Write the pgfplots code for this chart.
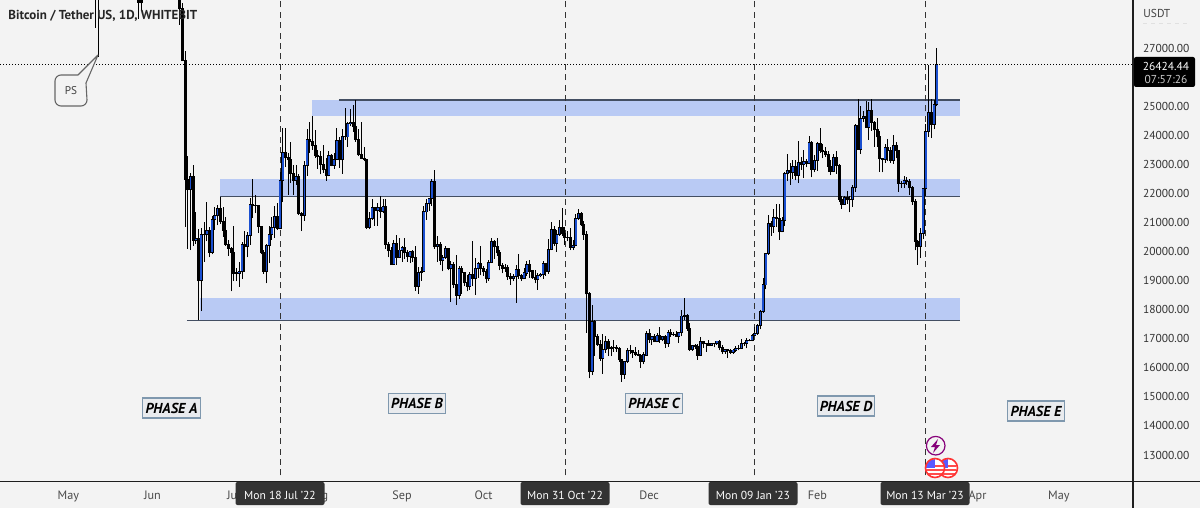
\documentclass[border=0pt]{standalone}
\usepackage{fontspec}
\setmainfont{PT Sans}
\usepackage{pgfplots}
\usepackage{pgfplotstable}
\pgfplotsset{compat=1.18}
\definecolor{bgc}{HTML}{F3F3F3}
\definecolor{zonec}{HTML}{B9CAF4}
\definecolor{linec}{HTML}{434E62}
\definecolor{bullc}{HTML}{1A4FD0}
\definecolor{axc}{HTML}{1E1E1E}
\definecolor{tickc}{HTML}{4A4A4A}
\definecolor{boxc}{HTML}{333333}
\definecolor{phb}{HTML}{7F98AE}
\definecolor{phf}{HTML}{E9EBEE}
\pgfplotstableread{
d o h l c
-68 31000 32000 27700 29100
-67 29050 30200 26700 28950
-52 28800 29300 28000 28580
-51 28650 29000 28300 28550
-38 30100 30300 28900 29080
-37 29080 29440 27800 28350
-36 28350 28550 26550 26570
-35 26570 26900 20850 22480
-34 22480 23300 20100 22130
-33 22130 22700 20050 22570
-32 22570 22980 20200 20380
-31 20380 21350 20250 20450
-30 20450 20780 17640 19000
-29 19000 20800 17950 20580
-28 20580 21000 19650 20570
-27 20570 21700 20350 20720
-26 20720 20860 19800 19960
-25 19960 21230 19900 21100
-24 21100 21530 20750 21230
-23 21230 21600 20900 21490
-22 21490 21870 20950 21040
-21 21040 21520 20500 20730
-20 20730 21180 20200 20250
-19 20250 20400 19850 20100
-18 20100 20150 18630 19980
-17 19980 20870 18980 19260
-16 19260 19430 18980 19240
-15 19240 19640 18780 19300
-14 19300 20340 19050 20230
-13 20230 20700 19300 20180
-12 20180 20680 19800 20550
-11 20550 21840 20240 21620
-10 21620 22500 21150 21580
-9 21580 21950 21320 21590
-8 21590 21600 20650 20860
-7 20860 20870 19900 19970
-6 19970 20050 19240 19330
-5 19330 20260 18900 20210
-4 20210 20880 19600 20580
-3 20580 21190 20400 20830
-2 20830 21560 20480 21190
-1 21190 21680 20750 20780
0 20780 22730 20770 22430
1 22430 24250 21700 23400
2 23400 24260 22900 23220
3 23220 23400 21950 23160
4 23160 23750 22350 22680
5 22680 22990 21950 22450
6 22450 22980 22300 22580
7 22580 22650 21250 21300
8 21300 21350 20700 21240
9 21240 23100 21050 22950
10 22950 24200 22600 23840
11 23840 24440 23400 23780
12 23780 24650 23500 23650
13 23650 24170 23230 23300
14 23300 23500 22850 23280
15 23280 23450 22650 22980
16 22980 23650 22700 22820
17 22820 23210 22430 22620
18 22620 23460 22580 23310
19 23310 23350 22930 22960
20 22960 23400 22850 23175
21 23175 24240 23150 23810
22 23810 23930 22880 23150
23 23150 24230 22670 23960
24 23960 24920 23850 23940
25 23940 24450 23600 24400
26 24400 24890 24300 24440
27 24440 25050 24120 24300
28 24300 25200 23780 23860
29 23860 24230 23280 23330
30 23330 24440 23180 23200
31 23200 23600 23100 23170
32 23170 23180 20770 20830
33 20830 21350 20760 21140
34 21140 21800 21100 21520
35 21520 21530 20890 21400
36 21400 21680 20880 21520
37 21520 21900 21150 21370
38 21370 21800 21310 21560
39 21560 21800 20100 20240
40 20240 20340 19800 20030
41 20030 20150 19550 19550
42 19550 20400 19540 20280
43 20280 20570 19540 19800
44 19800 20480 19780 20050
45 20050 20200 19650 20130
46 20130 20450 19750 19950
47 19950 20050 19650 19830
48 19830 20020 19600 20000
49 20000 20050 19650 19790
50 19790 20180 18650 18790
51 18790 19450 18540 19290
52 19290 19450 19000 19320
53 19320 21560 19300 21360
54 21360 21800 21100 21650
55 21650 21850 21400 21830
56 21830 22480 21560 22400
57 22400 22800 20100 20170
58 20170 20550 19650 20230
59 20230 20330 19550 19700
60 19700 19880 19320 19800
61 19800 20180 19750 20110
62 20110 20120 19350 19420
63 19420 19680 18270 19540
64 19540 19630 18750 18880
65 18880 19880 18160 18480
66 18480 19500 18360 19400
67 19400 19500 18540 19290
68 19290 19310 18820 18920
69 18920 19180 18630 18800
70 18800 19310 18680 19220
71 19220 20370 18800 19080
72 19080 19790 18500 19410
73 19410 19650 19100 19590
74 19590 20200 19180 19420
75 19420 19490 19160 19310
76 19310 19390 18920 19060
77 19060 19700 19000 19620
78 19620 20470 19600 20330
79 20330 20380 19750 20160
80 20160 20460 19850 19950
81 19950 20050 19350 19530
82 19530 19610 19250 19420
83 19420 19560 19310 19440
84 19440 19520 19020 19130
85 19130 19270 18860 19060
86 19060 19220 18980 19150
87 19150 19520 18230 19380
88 19380 19910 19070 19180
89 19180 19220 18980 19060
90 19060 19420 19050 19260
91 19260 19680 19150 19550
92 19550 19700 19100 19330
93 19330 19360 19050 19120
94 19120 19350 18900 19040
95 19040 19250 18680 19160
96 19160 19250 19110 19200
97 19200 19690 19070 19570
98 19570 19600 19160 19330
99 19330 20420 19240 20080
100 20080 21020 20050 20770
101 20770 20870 20200 20290
102 20290 20750 20000 20590
103 20590 21080 20540 20820
104 20820 21500 20530 20620
105 20620 20840 20240 20490
106 20490 20700 20350 20480
107 20480 20800 20050 20150
108 20150 20390 20050 20200
109 20200 21300 20180 21150
110 21150 21470 21080 21300
111 21300 21360 20880 20920
112 20920 21060 20400 20590
113 20590 20700 17200 18540
114 18540 18600 15640 15880
115 15880 18150 15750 17590
116 17590 17660 16400 17070
117 17070 17150 16750 16810
118 16810 16950 16250 16330
119 16330 17150 15800 16620
120 16620 17100 16520 16900
121 16900 17000 16400 16660
122 16660 16750 16400 16690
123 16690 16950 16550 16700
124 16700 16800 16550 16680
125 16680 16700 16200 16280
126 16280 16300 15520 15780
127 15780 16250 15620 16230
128 16230 16680 16160 16600
129 16600 16800 16460 16600
130 16600 16620 16350 16520
131 16520 16700 16400 16460
132 16460 16600 16400 16430
133 16430 16480 15990 16210
134 16210 16530 16120 16440
135 16440 17250 16430 17170
136 17170 17320 16860 16970
137 16970 17100 16790 17090
138 17090 17150 16880 16890
139 16890 17200 16880 17110
140 17110 17420 16860 16970
141 16970 17110 16910 17090
142 17090 17140 16680 16840
143 16840 17300 16730 17220
144 17220 17350 17060 17130
145 17130 17230 17090 17130
146 17130 17270 17070 17090
147 17090 17240 16870 17210
148 17210 18000 17080 17780
149 17780 18390 17660 17810
150 17810 17850 17280 17360
151 17360 17530 16570 16630
152 16630 16800 16580 16780
153 16780 16830 16660 16740
154 16740 16820 16280 16440
155 16440 17050 16400 16900
156 16900 16900 16690 16820
157 16820 16860 16560 16830
158 16830 16950 16750 16780
159 16780 16860 16770 16840
160 16840 16860 16700 16830
161 16830 16930 16790 16920
162 16920 16960 16600 16710
163 16710 16780 16470 16550
164 16550 16660 16490 16630
165 16630 16650 16330 16600
166 16600 16630 16470 16530
167 16530 16630 16490 16610
168 16610 16760 16550 16670
169 16670 16770 16600 16670
170 16670 16990 16650 16850
171 16850 16880 16750 16830
172 16830 17040 16670 16950
173 16950 16980 16910 16940
174 16940 17170 16910 17120
175 17120 17400 17100 17180
176 17180 17490 17140 17440
177 17440 18000 17320 17940
178 17940 19100 17900 18850
179 18850 19950 18700 19930
180 19930 21250 19880 20950
181 20950 21050 20550 20870
182 20870 21450 20640 21180
183 21180 21650 20850 21140
184 21140 21650 20400 20680
185 20680 21200 20660 21070
186 21070 22730 20870 22670
187 22670 23350 22420 22780
188 22780 23060 22300 22710
189 22710 23150 22500 22920
190 22920 23150 22450 22630
191 22630 23800 22350 23060
192 23060 23250 22820 23010
193 23010 23500 22520 23080
194 23080 23180 22890 23030
195 23030 23960 23000 23740
196 23740 23810 22550 22830
197 22830 23320 22720 23130
198 23130 23780 22770 23730
199 23730 24250 23400 23490
200 23490 23700 23200 23430
201 23430 23590 23250 23330
202 23330 23440 22750 22930
203 22930 23150 22630 22760
204 22760 23350 22750 23240
205 23240 23450 22680 22960
206 22960 23010 21700 21800
207 21800 21920 21470 21630
208 21630 21900 21600 21860
209 21860 22080 21630 21780
210 21780 21900 21350 21780
211 21780 22300 21540 22200
212 22200 24400 22050 24330
213 24330 25230 23500 23520
214 23520 25000 23350 24570
215 24570 24850 24450 24630
216 24630 25180 24260 24280
217 24280 25150 23850 24840
218 24840 25260 24150 24450
219 24450 24480 23600 24190
220 24190 24600 23600 23940
221 23940 24130 22750 23190
222 23190 23220 22720 23160
223 23160 23700 23060 23560
224 23560 23880 23100 23490
225 23490 23600 23040 23140
226 23140 24000 23020 23650
227 23650 23780 23200 23470
228 23470 23500 22050 22350
229 22350 22420 22200 22350
230 22350 22600 22200 22430
231 22430 22550 22300 22410
232 22410 22500 21930 22200
233 22200 22250 21600 21710
234 21710 21800 20040 20360
235 20360 20380 19550 20190
236 20190 20800 19770 20630
237 20630 22200 20420 22160
238 22160 24400 21900 24120
239 24120 26400 23950 24770
240 24770 25250 23900 24380
241 24380 25200 24200 25050
242 25050 27000 25000 26424.44
}\ohlc
\pgfplotstablecreatecol[create col/expr={\thisrow{h}-\thisrow{l}}]{wick}\ohlc
\pgfplotstablecreatecol[create col/expr={min(\thisrow{o},\thisrow{c})-18}]{bbot}\ohlc
\pgfplotstablecreatecol[create col/expr={abs(\thisrow{c}-\thisrow{o})+36}]{bh}\ohlc
\pgfplotstablecreatecol[create col/expr={\thisrow{o}+15}]{fbot}\ohlc
\pgfplotstablecreatecol[create col/expr={max(\thisrow{c}-\thisrow{o}-30,0)}]{fh}\ohlc
\begin{document}
\begin{tikzpicture}[x=0.5pt,y=-0.5pt]
% page = 1200 x 508 px, 1 px = 0.5 pt, drawn with y downward from the top left
\useasboundingbox (0,0) rectangle (1200,508);
\fill[bgc] (0,0) rectangle (1200,508);
\begin{axis}[
  at={(0pt,-240.5pt)}, anchor=south west, scale only axis,
  width=566.5pt, height=240.5pt,
  xmin=-103.17, xmax=314.3, ymin=12106, ymax=28651,
  axis line style={draw=none},
  clip=true,
  /pgf/number format/assume math mode=true,
  yticklabel pos=right,
  ytick={13000,14000,15000,16000,17000,18000,19000,20000,21000,22000,23000,24000,25000,27000},
  yticklabel style={font=\fontsize{5.75}{7}\selectfont, text=black!80, /pgf/number format/fixed, /pgf/number format/fixed zerofill, /pgf/number format/precision=2, /pgf/number format/1000 sep={}, xshift=1.5pt},
  scaled y ticks=false,
  xtick={-78,-47,-17,14,45,75,136,198,257,287},
  xticklabels={May,Jun,Jul,Aug,Sep,Oct,Dec,Feb,Apr,May},
  xticklabel style={font=\fontsize{6.1}{7}\selectfont, text=tickc, yshift=-1.2pt},
  major tick length=0pt,
]
% zones
\addplot[draw=none, fill=zonec, forget plot] coordinates {(11.8,25211) (250.5,25211) (250.5,24660) (11.8,24660)} --cycle;
\addplot[draw=none, fill=zonec, forget plot] coordinates {(-22.1,22484) (250.5,22484) (250.5,21892) (-22.1,21892)} --cycle;
\addplot[draw=none, fill=zonec, forget plot] coordinates {(-29.5,18390) (250.5,18390) (250.5,17620) (-29.5,17620)} --cycle;
% zone lines
\addplot[linec, line width=0.75pt, forget plot] coordinates {(21.7,25211) (250.5,25211)};
\addplot[linec, line width=0.75pt, forget plot] coordinates {(-22.1,21892) (250.5,21892)};
\addplot[linec, line width=0.75pt, forget plot] coordinates {(-34.3,17620) (250.5,17620)};
% event verticals
\addplot[black!80, line width=0.45pt, dash pattern=on 3pt off 2.2pt, forget plot] coordinates {(0,12300) (0,28651)};
\addplot[black!80, line width=0.45pt, dash pattern=on 3pt off 2.2pt, forget plot] coordinates {(105,12300) (105,28651)};
\addplot[black!80, line width=0.45pt, dash pattern=on 3pt off 2.2pt, forget plot] coordinates {(175,12300) (175,28651)};
\addplot[black!80, line width=0.45pt, dash pattern=on 3pt off 2.2pt, forget plot] coordinates {(238,12300) (238,28651)};
% last price
\addplot[black, line width=0.4pt, dash pattern=on 0.5pt off 1pt, forget plot] coordinates {(-103.17,26424.44) (314.3,26424.44)};
% wicks
\addplot[draw=none, forget plot, error bars/.cd, y dir=plus, y explicit, error mark=none,
  error bar style={draw=black, line width=0.5pt, solid}]
  table[x=d, y=l, y error plus=wick] {\ohlc};
% bodies
\addplot[draw=none, forget plot, error bars/.cd, y dir=plus, y explicit, error mark=none,
  error bar style={draw=black, line width=1.5pt, solid}]
  table[x=d, y=bbot, y error plus=bh] {\ohlc};
% bull fill
\addplot[draw=none, forget plot, error bars/.cd, y dir=plus, y explicit, error mark=none,
  error bar style={draw=bullc, line width=0.8pt, solid}]
  table[x=d, y=fbot, y error plus=fh] {\ohlc};
\end{axis}
% frame
\draw[axc, line width=0.6pt] (0,481.5) -- (1200,481.5);
\draw[axc, line width=0.6pt] (1133,0) -- (1133,508);
% title
\node[anchor=west, inner sep=0, text=black!85, font=\fontsize{6.5}{7}\selectfont\bfseries] at (8,16) {Bitcoin / Tether US, 1D, WHITEBIT};
% USDT
\node[anchor=west, inner sep=0, text=black!75, font=\fontsize{5.75}{7}\selectfont] at (1143,13) {USDT};
\draw[black!12, line width=0.4pt, dash pattern=on 2pt off 2pt] (1143,23) -- (1188,23);
% price label
\fill[black, rounded corners=1pt] (1134,57) rectangle (1195,87);
\node[anchor=center, inner sep=0, text=white, font=\fontsize{5.75}{7}\selectfont] at (1166,66) {26424.44};
\node[anchor=center, inner sep=0, text=black!20, font=\fontsize{5.75}{7}\selectfont] at (1166,79) {07:57:26};
% PS callout
\draw[black!60, line width=0.55pt, fill=bgc, line join=round]
  (78,75) -- (98,55) -- (86,83) -- (87,100) arc[start angle=0,end angle=90,radius=6] -- (61,106) arc[start angle=90,end angle=180,radius=6] -- (55,81) arc[start angle=180,end angle=270,radius=6] -- cycle;
\node[inner sep=0, text=black!75, font=\fontsize{5.6}{7}\selectfont] at (71,91) {PS};
% phases
\foreach \cx/\cy/\lab in {171.5/408/A,417/403.5/B,654/403.5/C,846/406/D,1036/411/E}{
  \node[draw=phb, fill=phf, line width=0.55pt, minimum width=28.6pt, minimum height=10pt, inner sep=0,
    font=\fontsize{7.2}{8}\selectfont\bfseries\itshape, text=black] at (\cx,\cy) {PHASE \lab};
}
% icons
\begin{scope}
\draw[purple!70!blue, line width=0.6pt] (935.7,445.7) circle (9.3);
\fill[purple!70!blue] (938,439) -- (931,447) -- (935,447) -- (933,453) -- (940,445) -- (936,445) -- cycle;
\end{scope}
\foreach \fx in {948,935}{
\begin{scope}
\fill[white] (\fx,468) circle (9.5);
\clip (\fx,468) circle (9);
\fill[white] (\fx-9,459) rectangle (\fx+9,477);
\foreach \s in {465,469,473}{\fill[red!70!white] (\fx-9,\s) rectangle (\fx+9,\s+2);}
\fill[blue!65!white] (\fx-9,459) rectangle (\fx,468);
\end{scope}
\draw[red!80!white, line width=0.8pt] (\fx,468) circle (9.5);
}
% date boxes
\foreach \cx/\lab in {280/Mon 18 Jul '22,565/Mon 31 Oct '22,753/Mon 09 Jan '23,925/Mon 13 Mar '23}{
  \fill[boxc, rounded corners=1pt] (\cx-44.5,482) rectangle (\cx+44.5,505);
  \node[inner sep=0, text=white, font=\fontsize{5.8}{7}\selectfont] at (\cx,495) {\lab};
}
\end{tikzpicture}
\end{document}
